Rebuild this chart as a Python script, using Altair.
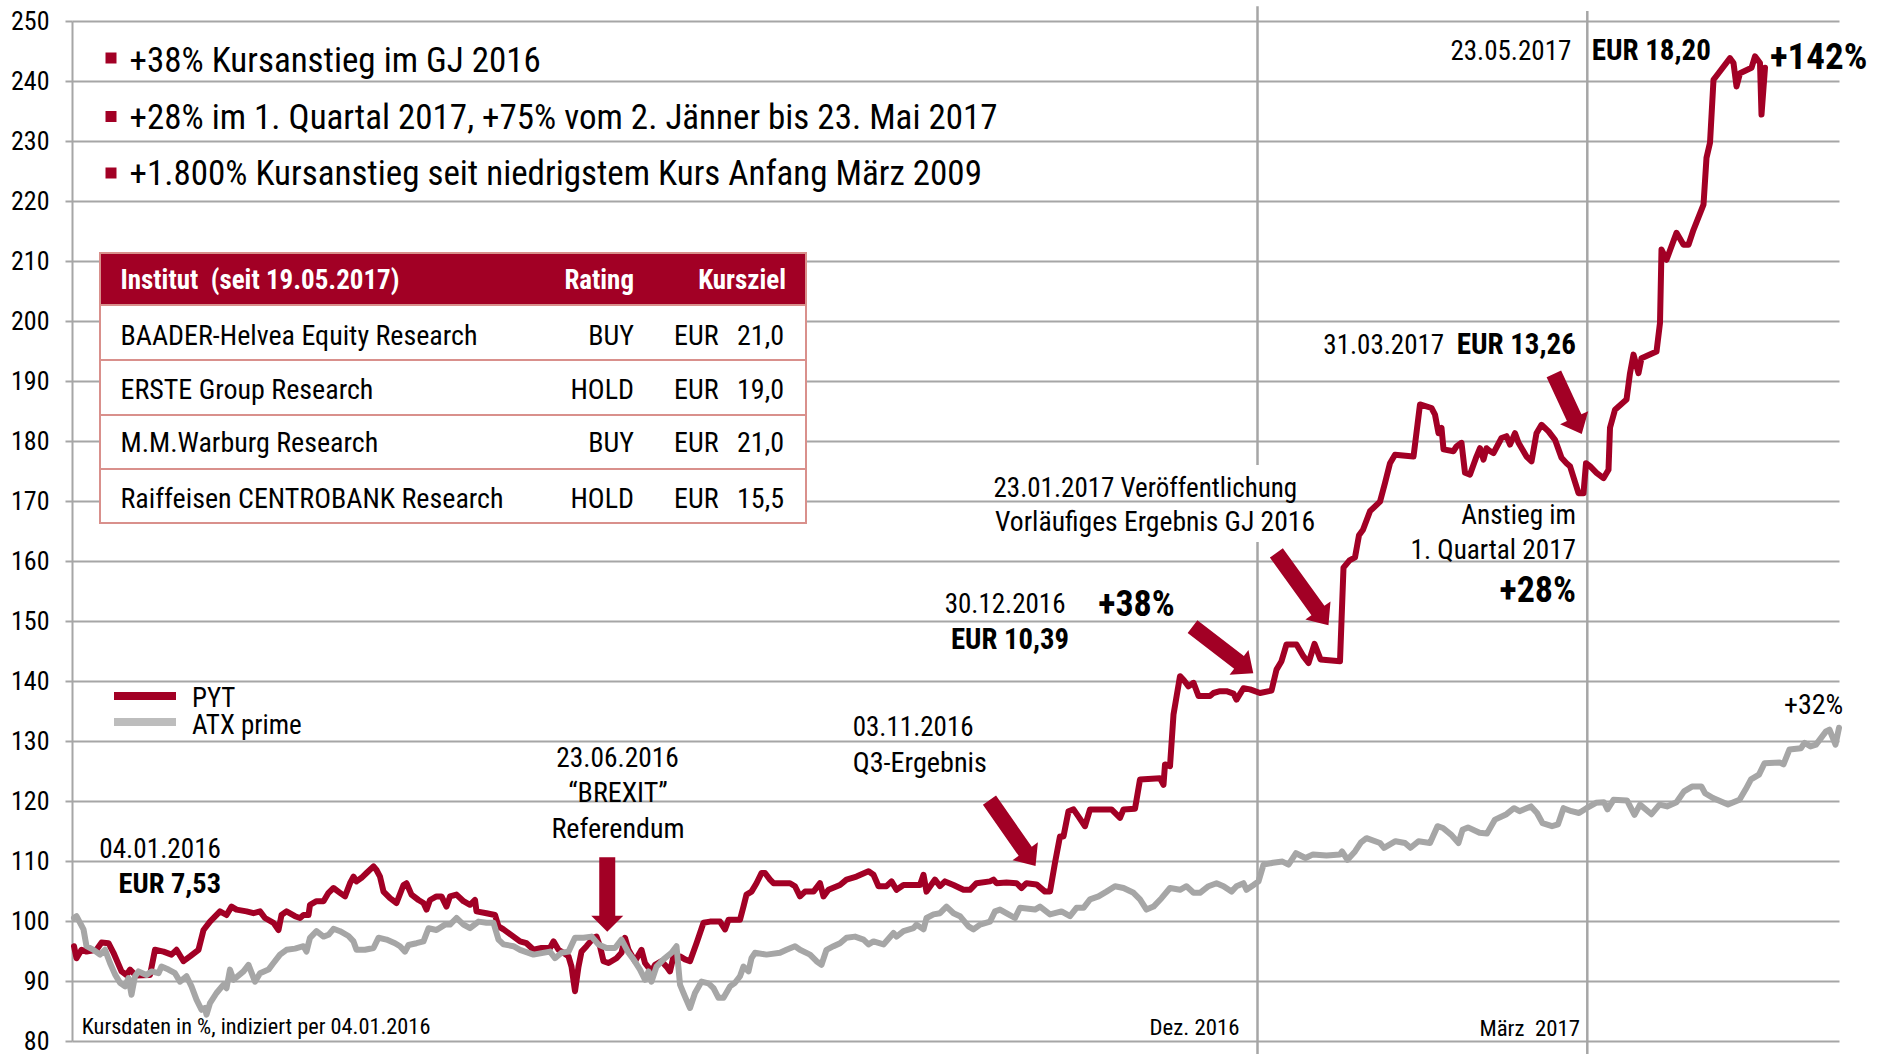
import altair as alt
import pandas as pd

FONT = "Liberation Sans Narrow, Arial Narrow, Roboto Condensed, Noto Sans Condensed, Open Sans Condensed, Noto Sans Display Condensed, DejaVu Sans Condensed, sans-serif"
RED = "#A20025"
GRAY = "#A6A6A6"
LEGEND_GRAY = "#BDBDBD"
GRID = "#A6A6A6"
PINK = "#D9908C"

# ---------------- data (trading-day index, indexed price) ----------------
PYT_X = [3.6, 4.1, 5.1, 6.1, 8.1, 9.1, 10.5, 11.5, 13.1, 14.1, 14.8, 16.0, 18.8, 19.8, 21.5, 23.1, 24.1, 25.5,
         26.8, 28.5, 29.5, 30.8, 32.8, 34.1, 35.1, 36.1, 38.1, 39.5, 40.8, 41.8, 43.5, 44.5, 45.1, 46.1, 47.8,
         48.8, 49.5, 50.5, 50.8, 52.1, 53.5, 54.5, 55.5, 56.8, 57.8, 58.8, 59.5, 60.1, 61.1, 62.1, 63.5, 64.1,
         64.8, 65.5, 66.8, 68.1, 69.5, 70.1, 71.1, 72.5, 73.5, 74.1, 74.8, 76.1, 77.1, 78.1, 78.8, 80.1, 81.5,
         82.8, 83.8, 84.1, 86.1, 87.8, 88.5, 89.5, 91.5, 92.8, 94.1, 95.5, 97.1, 98.8, 99.5, 100.5, 101.5, 102.5,
         103.1, 103.8, 104.5, 105.1, 106.1, 107.5, 108.1, 108.8, 109.5, 110.5, 112.1, 113.1, 113.8, 114.5, 115.8,
         117.1, 117.8, 119.1, 119.8, 121.1, 122.1, 122.8, 123.5, 124.8, 125.8, 126.8, 128.1, 129.5, 130.8, 132.8,
         133.8, 134.5, 136.8, 137.5, 138.1, 139.1, 140.1, 141.1, 141.8, 142.8, 143.5, 146.8, 147.8, 148.8, 149.8,
         151.5, 152.8, 153.5, 154.5, 156.8, 158.1, 160.1, 162.5, 163.5, 164.5, 166.1, 167.1, 168.1, 169.5, 172.8,
         173.5, 174.1, 175.8, 176.8, 177.8, 179.5, 181.5, 182.8, 184.1, 186.8, 187.5, 188.1, 190.1, 192.1, 193.1,
         194.1, 196.1, 197.8, 198.8, 199.8, 200.8, 201.5, 202.5, 203.5, 204.5, 205.8, 206.8, 211.1, 212.8, 213.5,
         215.8, 216.8, 220.8, 221.5, 221.8, 222.8, 223.5, 224.8, 225.5, 226.5, 227.5, 228.5, 230.8, 231.5, 232.8,
         234.1, 235.5, 236.1, 237.5, 238.8, 240.8, 243.1, 244.1, 245.1, 246.1, 248.1, 249.5, 250.5, 251.7, 252.9,
         256.8, 257.5, 258.7, 259.8, 260.6, 261.4, 262.8, 264.8, 265.8, 266.8, 267.8, 271.5, 272.8, 275.1, 275.8,
         276.5, 277.1, 277.5, 279.5, 280.1, 281.1, 281.8, 282.8, 284.1, 284.8, 285.5, 286.1, 286.8, 287.5, 289.1,
         290.1, 290.8, 291.8, 292.5, 294.1, 295.1, 296.1, 297.1, 298.5, 299.8, 300.5, 301.1, 302.1, 302.8, 304.5,
         305.5, 306.0, 306.8, 308.1, 309.5, 310.5, 310.8, 311.8, 314.1, 314.8, 315.5, 316.5, 317.1, 320.1, 320.8,
         321.1, 322.1, 324.1, 325.5, 326.5, 327.5, 329.5, 330.1, 330.8, 331.5, 332.5, 334.8, 335.5, 336.1, 336.8,
         339.1, 339.8, 340.8, 341.1, 341.8]
PYT_Y = [95.8, 93.8, 95.2, 94.9, 95.2, 96.4, 96.3, 94.7, 91.6, 91.0, 91.9, 90.9, 91.0, 95.2, 94.9, 94.4, 95.2, 93.3,
         94.1, 95.2, 98.5, 99.9, 101.6, 101.0, 102.4, 101.9, 101.6, 101.3, 101.6, 100.5, 99.7, 98.5, 101.0, 101.6, 100.8,
         100.5, 101.0, 101.0, 102.7, 103.3, 103.3, 104.7, 105.5, 104.7, 104.1, 106.3, 107.4, 106.6, 107.2, 108.0, 109.1, 108.5,
         107.4, 104.9, 103.8, 103.0, 106.0, 106.3, 104.4, 103.5, 103.0, 101.9, 103.5, 104.1, 104.1, 102.4, 104.1, 104.4, 103.3,
         102.7, 103.5, 101.6, 101.3, 101.0, 99.1, 98.6, 97.4, 96.6, 96.3, 95.2, 95.5, 95.5, 96.6, 95.2, 94.7, 94.1,
         92.4, 88.3, 92.4, 94.9, 95.8, 97.2, 97.4, 95.8, 93.3, 93.0, 93.8, 94.7, 97.2, 95.2, 93.3,
         95.2, 93.0, 91.6, 92.7, 93.3, 92.4, 91.6, 94.1, 94.1, 93.6, 93.3, 96.3, 99.7, 99.9, 99.9,
         98.6, 100.2, 100.2, 102.4, 104.4, 104.9, 106.3, 108.0, 108.0, 106.9, 106.3, 106.3, 105.8, 104.1, 104.9,
         104.9, 106.3, 104.1, 105.2, 106.0, 106.9, 107.4, 108.3, 107.7, 105.8, 105.8, 106.6, 105.2, 106.0, 106.0,
         107.7, 104.9, 106.9, 105.8, 106.6, 106.0, 105.2, 105.2, 106.3, 106.6, 106.9, 106.3, 106.4, 106.3, 105.5,
         106.3, 106.1, 104.9, 104.9, 109.7, 114.1, 114.1, 118.3, 118.6, 117.4, 115.8, 118.6, 118.6, 117.2, 118.6,
         118.7, 123.6, 123.8, 122.7, 126.1, 125.8, 134.4, 140.8, 140.2, 139.1, 139.7, 137.5, 137.5, 138.0, 138.3,
         138.3, 137.9, 136.9, 138.8, 138.6, 138.0, 138.4, 141.9, 143.3, 146.1, 146.1, 144.1, 143.0, 146.2, 143.6,
         143.3, 158.9, 160.1, 160.6, 164.3, 165.2, 168.3, 169.9, 173.0, 176.3, 177.7, 177.4, 186.1, 185.5, 184.4,
         181.3, 182.2, 178.6, 178.3, 179.1, 179.7, 174.7, 174.4, 177.4, 178.8, 176.9, 178.8, 178.3, 178.0, 180.5,
         180.8, 179.4, 181.3, 179.7, 177.4, 176.6, 181.3, 182.7, 181.6, 180.2, 178.6, 177.2, 176.3, 175.8, 171.3,
         171.3, 176.3, 175.8, 174.7, 173.8, 175.2, 182.2, 185.2, 186.9, 191.3, 194.4, 191.3, 193.8, 194.9, 199.7,
         211.9, 210.2, 214.7, 212.7, 212.7, 215.2, 219.4, 227.2, 229.7, 240.2, 241.3, 243.8, 243.0, 239.1, 241.3,
         242.2, 244.1, 243.0, 234.4, 242.2]

ATX_X = [3.6, 4.1, 5.5, 6.1, 7.5, 8.8, 9.8, 10.8, 11.8, 12.8, 13.8, 14.5, 15.1, 15.8, 16.5, 18.1, 19.1, 20.5, 21.1,
         22.5, 23.8, 24.8, 26.1, 27.1, 28.1, 29.1, 29.8, 30.1, 30.8, 32.1, 33.5, 34.1, 34.8, 35.5, 37.5, 38.5, 39.8,
         40.8, 42.5, 43.5, 44.8, 46.1, 47.8, 49.5, 50.1, 50.8, 52.1, 53.5, 54.5, 55.5, 56.8, 58.5, 59.5, 60.1, 61.8,
         63.5, 64.5, 66.1, 67.8, 68.8, 69.8, 70.5, 72.1, 73.5, 74.5, 76.1, 77.8, 78.8, 80.1, 81.5, 82.8, 84.5, 86.1,
         87.5, 88.5, 89.5, 91.5, 92.8, 95.5, 98.8, 99.8, 101.1, 102.5, 103.8, 105.5, 107.1, 108.5, 110.1, 111.8,
         113.1, 114.5, 115.5, 116.8, 117.8, 118.5, 119.1, 120.1, 121.5, 123.1, 124.1, 124.8, 125.8, 126.8, 127.8,
         129.1, 130.5, 131.5, 132.5, 133.5, 134.8, 135.8, 136.8, 137.5, 138.5, 139.1, 139.8, 142.1, 144.8, 146.1,
         147.8, 148.8, 150.8, 152.1, 153.1, 154.1, 155.5, 156.8, 158.1, 159.8, 161.5, 162.5, 163.5, 165.5, 167.5,
         168.1, 169.5, 171.5, 172.1, 173.5, 174.1, 175.5, 176.8, 178.1, 179.5, 180.8, 182.5, 183.5, 184.8, 186.8,
         187.8, 188.8, 190.5, 191.8, 192.8, 195.8, 196.8, 198.8, 201.1, 202.8, 204.1, 205.5, 206.8, 208.5, 210.1,
         211.8, 213.5, 215.5, 216.8, 218.1, 219.5, 221.1, 222.8, 224.8, 226.1, 227.5, 228.8, 230.5, 232.1, 233.5,
         235.1, 236.1, 237.5, 238.1, 239.5, 240.5, 241.5, 243.4, 245.3, 246.5, 248.0, 249.9, 251.4, 254.1, 256.8,
         257.2, 258.3, 259.8, 261.0, 262.1, 264.8, 265.6, 267.9, 269.8, 270.9, 272.5, 274.8, 276.3, 277.4, 279.0,
         280.5, 281.3, 282.4, 284.7, 286.2, 287.8, 290.1, 291.6, 292.7, 295.0, 296.2, 297.3, 299.2, 300.4, 301.5,
         303.1, 304.6, 306.1, 308.0, 309.6, 310.3, 311.5, 314.2, 315.7, 316.8, 319.1, 320.7, 322.2, 324.1, 325.6,
         327.2, 329.1, 329.8, 331.4, 334.4, 336.7, 337.9, 339.0, 340.6, 341.7, 344.8, 345.5, 346.7, 349.0, 349.7,
         350.9, 352.0, 354.0, 354.7, 355.9, 356.6]
ATX_Y = [100.5, 100.8, 98.6, 95.8, 95.2, 94.4, 95.2, 93.0, 91.1, 89.7, 89.1, 90.5, 87.7, 90.8, 91.6, 91.0, 91.6, 91.3, 92.4,
         91.9, 91.3, 89.9, 90.8, 89.1, 86.9, 85.2, 85.5, 84.4, 86.3, 88.0, 89.4, 88.8, 91.9, 90.2, 91.6, 92.7, 89.9,
         91.3, 91.9, 93.0, 94.4, 95.2, 95.4, 95.8, 94.9, 97.2, 98.3, 97.4, 97.7, 98.7, 98.3, 97.5, 96.6, 95.2, 95.2,
         95.5, 97.2, 96.9, 96.3, 95.8, 94.9, 96.0, 96.3, 96.6, 98.8, 98.5, 99.4, 99.4, 100.5, 99.4, 98.8, 99.9, 99.7,
         99.7, 96.9, 96.1, 95.8, 95.2, 94.4, 94.9, 93.8, 94.7, 94.9, 97.2, 97.2, 97.4, 96.1, 95.5, 95.5,
         96.9, 94.7, 93.6, 91.9, 90.2, 91.6, 89.9, 92.4, 93.6, 94.7, 95.8, 89.4, 87.4, 85.5, 88.0,
         89.9, 89.6, 88.8, 87.2, 87.2, 89.1, 89.7, 90.8, 92.4, 91.6, 93.8, 94.7, 94.4, 94.7, 95.2,
         95.8, 95.2, 94.4, 93.3, 92.7, 95.2, 95.8, 96.3, 97.2, 97.4, 96.9, 96.1, 96.6, 96.1, 98.0,
         97.4, 98.3, 98.8, 99.4, 98.6, 100.5, 101.1, 101.3, 102.4, 101.3, 100.8, 99.1, 98.6, 99.4, 99.9,
         101.6, 101.9, 101.1, 100.5, 102.2, 101.9, 102.4, 101.1, 101.6, 100.8, 102.2, 102.2, 103.6, 104.1, 104.9,
         105.8, 105.5, 104.7, 103.6, 101.9, 102.4, 103.8, 105.5, 105.2, 105.8, 104.7, 104.7, 105.8, 106.3, 105.8,
         104.9, 105.8, 106.3, 105.2, 106.0, 106.6, 109.4, 109.7, 109.9, 109.4, 111.3, 110.5, 111.1, 110.9, 111.1,
         111.6, 110.2, 111.6, 113.1, 113.8, 113.0, 112.2, 113.3, 113.0, 112.2, 113.3, 113.0, 115.8, 115.5, 114.4,
         113.0, 115.2, 115.6, 114.7, 114.6, 116.9, 117.8, 118.8, 118.3, 119.1, 118.0, 116.3, 115.8, 116.1, 118.8,
         118.3, 118.0, 118.8, 119.7, 119.8, 118.6, 120.2, 120.1, 117.7, 119.4, 117.8, 119.4, 119.1, 119.8, 121.6,
         122.4, 122.4, 121.3, 120.5, 119.4, 120.2, 121.9, 123.6, 124.4, 126.3, 126.4, 126.1, 128.6, 128.8, 129.7,
         129.1, 129.4, 131.6, 131.9, 129.4, 132.2]

Y_TICKS = list(range(80, 251, 10))
X_DOMAIN = [3.2, 356.6]
Y_DOMAIN = [80, 250]

# month separators (index, from, to)
SEP_X = [240.3, 240.3, 306.26]
SEP_Y1 = [252.47, 163.17, 251.67]
SEP_Y2 = [176.0, 77.83, 77.83]

BULLETS = ["+38% Kursanstieg im GJ 2016",
           "+28% im 1. Quartal 2017, +75% vom 2. Jänner bis 23. Mai 2017",
           "+1.800% Kursanstieg seit niedrigstem Kurs Anfang März 2009"]
TABLE_HEAD = ["Institut\u00a0 (seit 19.05.2017)", "Rating", "Kursziel"]
INSTITUTES = ["BAADER-Helvea Equity Research", "ERSTE Group Research",
              "M.M.Warburg Research", "Raiffeisen CENTROBANK Research"]
RATINGS = ["BUY", "HOLD", "BUY", "HOLD"]
TARGETS = ["21,0", "19,0", "21,0", "15,5"]

# ---------------- layout ----------------
PAD_L, PAD_T = 72, 21
W, H = 1767, 1020
ONE = pd.DataFrame({"a": [0]})


def vx(x):
    return x - PAD_L


def vy(y):
    return y - PAD_T


xs = alt.Scale(domain=X_DOMAIN, nice=False, zero=False)
ys = alt.Scale(domain=Y_DOMAIN, nice=False, zero=False)

yaxis = alt.Axis(values=Y_TICKS, grid=True, gridColor=GRID, gridWidth=2, domainColor=GRID, domainWidth=2,
                 tickColor=GRID, tickWidth=2, tickSize=7, labelFont=FONT, labelFontSize=26, labelColor="black",
                 labelPadding=16, title=None, labelFlush=False, labelOverlap=False)

layers = []

sep = alt.Chart(pd.DataFrame({"t": SEP_X, "v1": SEP_Y1, "v2": SEP_Y2})).mark_rule(
    color=GRID, strokeWidth=2.5, clip=False).encode(
    x=alt.X("t:Q", scale=xs, axis=None),
    y=alt.Y("v1:Q", scale=ys, axis=yaxis),
    y2="v2:Q")
layers.append(sep)

pyt = alt.Chart(pd.DataFrame({"t": PYT_X, "v": PYT_Y})).mark_line(
    color=RED, strokeWidth=6, strokeJoin="round", strokeCap="round").encode(
    x=alt.X("t:Q", scale=xs, axis=None), y=alt.Y("v:Q", scale=ys, axis=yaxis))
atx = alt.Chart(pd.DataFrame({"t": ATX_X, "v": ATX_Y})).mark_line(
    color=GRAY, strokeWidth=6, strokeJoin="round", strokeCap="round").encode(
    x=alt.X("t:Q", scale=xs, axis=None), y=alt.Y("v:Q", scale=ys, axis=yaxis))
layers += [pyt, atx]


def rect(x1, y1, x2, y2, fill, stroke=None, sw=0):
    kw = dict(fill=fill)
    if stroke:
        kw.update(stroke=stroke, strokeWidth=sw)
    else:
        kw.update(strokeWidth=0)
    return alt.Chart(ONE).mark_rect(**kw).encode(
        x=alt.value(vx(x1)), x2=alt.value(vx(x2)), y=alt.value(vy(y1)), y2=alt.value(vy(y2)))


def hline(x1, x2, y, color, sw):
    return alt.Chart(ONE).mark_rule(color=color, strokeWidth=sw).encode(
        x=alt.value(vx(x1)), x2=alt.value(vx(x2)), y=alt.value(vy(y)))


def txt(s, x, yc, size, align="left", bold=False, color="black"):
    return alt.Chart(ONE).mark_text(
        text=s, align=align, baseline="alphabetic", font=FONT, fontSize=size,
        fontWeight="bold" if bold else "normal", color=color).encode(
        x=alt.value(vx(x)), y=alt.value(vy(yc + 0.355 * size)))


def arrow(cx, cy, L, angle, sw=16, hw=31, hl=18):
    a, b = -L / 2, L / 2
    h0 = b - hl
    path = (f"M {a:.2f} {-sw/2:.2f} L {h0:.2f} {-sw/2:.2f} L {h0:.2f} {-hw/2:.2f} L {b:.2f} 0 "
            f"L {h0:.2f} {hw/2:.2f} L {h0:.2f} {sw/2:.2f} L {a:.2f} {sw/2:.2f} Z")
    return alt.Chart(ONE).mark_point(shape=path, size=4, angle=angle, filled=True, color=RED,
                                     opacity=1, strokeWidth=0).encode(
        x=alt.value(vx(cx)), y=alt.value(vy(cy)))


for i, (s, yc) in enumerate(zip(BULLETS, [59.4, 116.2, 173.0])):
    bc = [58.0, 116.5, 173.0][i]
    layers.append(rect(105.5, bc - 5.5, 116.5, bc + 5.5, RED))
    layers.append(txt(s, 129.5, yc, 35))

layers.append(rect(100, 253, 806, 523, "white", PINK, 2))
layers.append(rect(100, 253, 806, 305, RED, PINK, 2))
for yy in [360, 415, 469]:
    layers.append(hline(100, 806, yy, PINK, 2))
layers.append(txt(TABLE_HEAD[0], 120.5, 279.8, 27, bold=True, color="white"))
layers.append(txt(TABLE_HEAD[1], 634, 279.8, 27, align="right", bold=True, color="white"))
layers.append(txt(TABLE_HEAD[2], 786, 279.8, 27, align="right", bold=True, color="white"))
for name, rat, tg, yc in zip(INSTITUTES, RATINGS, TARGETS, [334.9, 389.0, 442.5, 497.6]):
    layers.append(txt(name, 120.5, yc, 28))
    layers.append(txt(rat, 634, yc, 28, align="right"))
    layers.append(txt("EUR", 674, yc, 28))
    layers.append(txt(tg, 784, yc, 28, align="right"))

layers.append(hline(114, 176, 696, RED, 8))
layers.append(hline(114, 176, 722, LEGEND_GRAY, 8))
layers.append(txt("PYT", 192, 697, 27))
layers.append(txt("ATX prime", 192, 724, 27))

layers.append(txt("Kursdaten in %, indiziert per 04.01.2016", 81.7, 1026.5, 22.3))
layers.append(txt("Dez. 2016", 1239.5, 1027, 22.8, align="right"))
layers.append(txt("März\u00a0 2017", 1580, 1027.5, 22.8, align="right"))

layers.append(txt("04.01.2016", 221, 848, 27.2, align="right"))
layers.append(txt("EUR 7,53", 221, 882.7, 28.4, align="right", bold=True))

layers.append(txt("23.06.2016", 617.5, 757.3, 27.4, align="center"))
layers.append(txt("\u201cBREXIT\u201d", 618, 792.5, 28, align="center"))
layers.append(txt("Referendum", 618, 828.3, 28, align="center"))

layers.append(txt("03.11.2016", 852.7, 726.7, 27))
layers.append(txt("Q3-Ergebnis", 852.7, 761.7, 28.2))

layers.append(txt("30.12.2016", 1065.5, 603.3, 27, align="right"))
layers.append(txt("EUR 10,39", 1069, 639, 28.7, align="right", bold=True))
layers.append(txt("+38%", 1098.3, 603.3, 36, bold=True))

layers.append(txt("23.01.2017 Ver\u00f6ffentlichung", 993.5, 487.5, 27))
layers.append(txt("Vorl\u00e4ufiges Ergebnis GJ 2016", 995, 521, 27.6))

layers.append(txt("31.03.2017", 1323.3, 344, 27))
layers.append(txt("EUR 13,26", 1456.7, 344, 29, bold=True))

layers.append(txt("Anstieg im", 1576, 514.5, 27.2, align="right"))
layers.append(txt("1. Quartal 2017", 1576, 549, 27.2, align="right"))
layers.append(txt("+28%", 1576, 589, 36, align="right", bold=True))

layers.append(txt("23.05.2017", 1571.3, 50, 27, align="right"))
layers.append(txt("EUR 18,20", 1591.7, 50, 29, bold=True))
layers.append(txt("+142%", 1770, 56, 37, bold=True))

layers.append(txt("+32%", 1784, 704.5, 28))

layers.append(arrow(607.25, 894.5, 74.4, 90, sw=16, hw=32, hl=16))
layers.append(arrow(1012.5, 833.1, 80.3, 55.0))
layers.append(arrow(1222.9, 650.0, 76.6, 37.5))
layers.append(arrow(1302.4, 589.0, 89.1, 54.2))
layers.append(arrow(1567.8, 404.0, 66.2, 65.1))

chart = alt.layer(*layers).properties(
    width=W, height=H,
    autosize=alt.AutoSizeParams(type="none"),
    padding={"left": PAD_L, "top": PAD_T, "right": 1885 - PAD_L - W, "bottom": 1054 - PAD_T - H},
    background="white",
).configure_view(strokeWidth=0)

chart.save("out.html", embed_options={"renderer": "svg", "actions": False})
